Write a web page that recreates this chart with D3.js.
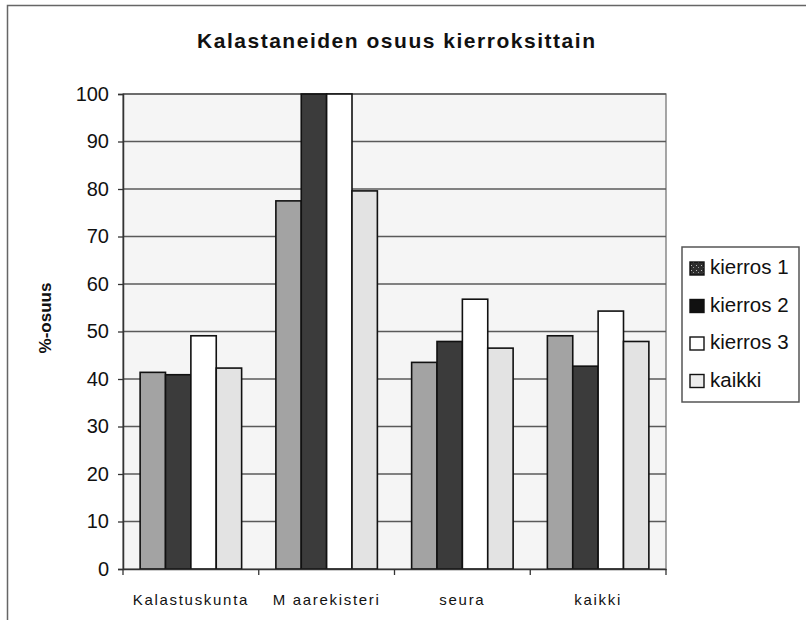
<!DOCTYPE html>
<html>
<head>
<meta charset="utf-8">
<script src="https://cdn.jsdelivr.net/npm/d3@7"></script>
<style>
  html, body { margin: 0; padding: 0; background: #fff; }
  svg { display: block; font-family: "Liberation Sans", Arial, sans-serif; }
</style>
</head>
<body>
<svg id="chart" width="806" height="620"></svg>
<script>
const categories = ["Kalastuskunta", "M aarekisteri", "seura", "kaikki"];
const seriesNames = ["kierros 1", "kierros 2", "kierros 3", "kaikki"];
const kierros1 = [41.4, 77.5, 43.5, 49.1];
const kierros2 = [40.9, 100, 47.9, 42.7];
const kierros3 = [49.1, 100, 56.8, 54.3];
const kaikki   = [42.3, 79.6, 46.5, 47.9];
const yTicks = [0, 10, 20, 30, 40, 50, 60, 70, 80, 90, 100];
const chartTitle = "Kalastaneiden osuus kierroksittain";
const yTitle = "%-osuus";

const seriesValues = [kierros1, kierros2, kierros3, kaikki];
const fills = ["#a3a3a3", "#3b3b3b", "#ffffff", "#e3e3e3"];
const legendFills = ["url(#speckle)", "#111111", "#ffffff", "#ececec"];

const svg = d3.select("#chart");
const plot = { left: 123, right: 666, top: 94, bottom: 569 };

// pattern for legend swatch 1
const defs = svg.append("defs");
const pat = defs.append("pattern").attr("id", "speckle")
  .attr("patternUnits", "userSpaceOnUse").attr("width", 5).attr("height", 5);
pat.append("rect").attr("width", 5).attr("height", 5).attr("fill", "#2e2e2e");
pat.append("rect").attr("x", 1).attr("y", 1).attr("width", 1).attr("height", 1).attr("fill", "#bbb");
pat.append("rect").attr("x", 3).attr("y", 3).attr("width", 1).attr("height", 1).attr("fill", "#999");

// outer frame
svg.append("path")
  .attr("d", "M7.5,620 L7.5,5.5 L806,5.5")
  .attr("fill", "none").attr("stroke", "#666").attr("stroke-width", 1.5);

// title
svg.append("text")
  .attr("x", 197).attr("y", 48)
  .attr("text-anchor", "start")
  .attr("font-size", 21).attr("font-weight", "bold")
  .attr("textLength", 398).attr("lengthAdjust", "spacing")
  .attr("fill", "#111")
  .text(chartTitle);

const y = d3.scaleLinear().domain([0, 100]).range([plot.bottom, plot.top]);
const x0 = d3.scaleBand().domain(categories).range([plot.left, plot.right]).paddingInner(0).paddingOuter(0);
const gapFrac = 1.35;
const bw = x0.bandwidth() / (seriesNames.length + gapFrac);
const x1 = d3.scaleBand().domain(seriesNames)
  .range([bw * gapFrac / 2, bw * gapFrac / 2 + bw * seriesNames.length]);

// plot background
svg.append("rect")
  .attr("x", plot.left).attr("y", plot.top)
  .attr("width", plot.right - plot.left).attr("height", plot.bottom - plot.top)
  .attr("fill", "#f5f5f5").attr("stroke", "#777").attr("stroke-width", 1.3);

// gridlines
svg.append("g").selectAll("line").data(yTicks.filter(d => d > 0)).join("line")
  .attr("x1", plot.left).attr("x2", plot.right)
  .attr("y1", d => y(d)).attr("y2", d => y(d))
  .attr("stroke", "#5a5a5a").attr("stroke-width", 1.4);

// bars
const groups = svg.append("g").selectAll("g").data(categories).join("g")
  .attr("transform", d => `translate(${x0(d)},0)`);
groups.selectAll("rect")
  .data((c, ci) => seriesNames.map((s, si) => ({ s, si, v: seriesValues[si][ci] })))
  .join("rect")
  .attr("x", d => x1(d.s))
  .attr("width", x1.bandwidth())
  .attr("y", d => y(d.v))
  .attr("height", d => y(0) - y(d.v))
  .attr("fill", d => fills[d.si])
  .attr("stroke", "#111").attr("stroke-width", 1.6);

// y axis
const yAxis = d3.axisLeft(y).tickValues(yTicks).tickSize(5).tickPadding(9).tickFormat(d3.format("d"));
const gy = svg.append("g").attr("transform", `translate(${plot.left},0)`).call(yAxis);
gy.select(".domain").attr("stroke", "#333").attr("stroke-width", 1.5);
gy.selectAll(".tick line").attr("stroke", "#333").attr("stroke-width", 1.3);
gy.selectAll(".tick text").attr("font-size", 20).attr("fill", "#111")
  .attr("font-family", "Liberation Sans, Arial, sans-serif");

// x axis
const xAxis = d3.axisBottom(x0).tickSize(0).tickPadding(25);
const gx = svg.append("g").attr("transform", `translate(0,${plot.bottom})`).call(xAxis);
gx.select(".domain").attr("stroke", "#333").attr("stroke-width", 1.5);
gx.selectAll(".tick text").attr("font-size", 15).attr("letter-spacing", 1.7).attr("fill", "#111")
  .attr("font-family", "Liberation Sans, Arial, sans-serif");
// category boundary ticks
const bounds = categories.map(c => x0(c)).concat([plot.right]);
svg.append("g").selectAll("line").data(bounds).join("line")
  .attr("x1", d => d).attr("x2", d => d)
  .attr("y1", plot.bottom).attr("y2", plot.bottom + 6)
  .attr("stroke", "#333").attr("stroke-width", 1.3);

// y title
svg.append("text")
  .attr("transform", `translate(51,318) rotate(-90)`)
  .attr("text-anchor", "middle")
  .attr("font-size", 17).attr("font-weight", "bold").attr("fill", "#111")
  .text(yTitle);

// legend
const lg = svg.append("g");
lg.append("rect")
  .attr("x", 682).attr("y", 247).attr("width", 117).attr("height", 155)
  .attr("fill", "#fff").attr("stroke", "#555").attr("stroke-width", 1.5);
const items = lg.selectAll("g.item").data(seriesNames).join("g").attr("class", "item")
  .attr("transform", (d, i) => `translate(690,${274 + i * 37.5})`);
items.append("rect")
  .attr("x", 0).attr("y", -12).attr("width", 14).attr("height", 13)
  .attr("fill", (d, i) => legendFills[i]).attr("stroke", "#111").attr("stroke-width", 1.4);
items.append("text")
  .attr("x", 20).attr("y", 0)
  .attr("font-size", 20.5).attr("fill", "#111")
  .text(d => d);
</script>
</body>
</html>
